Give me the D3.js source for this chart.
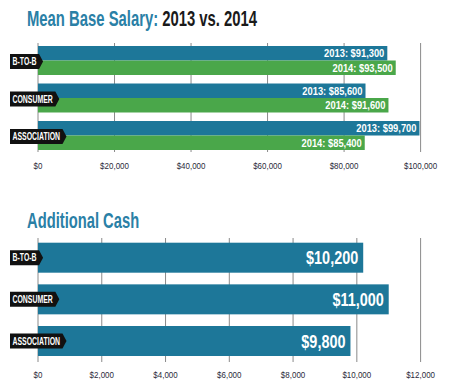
<!DOCTYPE html>
<html>
<head>
<meta charset="utf-8">
<script src="https://cdn.jsdelivr.net/npm/d3@7"></script>
<style>
  body { margin: 0; background: #fff; }
  svg text { font-family: "Liberation Sans", Arial, sans-serif; }
</style>
</head>
<body>
<div id="chart"></div>
<script>
// categories shared by both panels
var categories = ["B-TO-B", "CONSUMER", "ASSOCIATION"];

// mean base salary, by year
var years = ["2013", "2014"];
var salary2013 = [91300, 85600, 99700];
var salary2014 = [93500, 91600, 85400];
var salaryTicks = [0, 20000, 40000, 60000, 80000, 100000];

// additional cash
var cash = [10200, 11000, 9800];
var cashTicks = [0, 2000, 4000, 6000, 8000, 10000, 12000];

var blue = "#1d7799", green = "#4aa74a", titleBlue = "#2a80a6";
var width = 450, height = 391;
var fmt = d3.format("$,");

var svg = d3.select("#chart").append("svg")
    .attr("width", width).attr("height", height);

// the original uses a condensed face, so squeeze the text horizontally
function squeeze(sel, x, y, sx) {
    return sel.attr("transform", "translate(" + x + "," + y + ") scale(" + sx + ",1)")
        .attr("x", 0).attr("y", 0);
}

// black arrow-shaped category tag, centred on y
function drawTag(g, label, y) {
    var tag = g.append("g").attr("class", "tag");
    var path = tag.append("path").attr("fill", "#111");
    var sx = 0.66;
    var txt = tag.append("text")
        .attr("fill", "#fff")
        .attr("font-size", 10.5)
        .attr("font-weight", "bold")
        .text(label);
    squeeze(txt, 12.5, y + 3.8, sx);
    var w = txt.node().getComputedTextLength() * sx;
    var x0 = 10, xe = 12.5 + w + 2.5, h = 7.5;
    path.attr("d", "M" + x0 + "," + (y - h) + "H" + xe + "L" + (xe + 4) + "," + y +
        "L" + xe + "," + (y + h) + "H" + x0 + "Z");
}

function drawGrid(g, x, ticks, y0, y1, labelY) {
    g.selectAll(".grid").data(ticks).enter().append("line")
        .attr("class", "grid")
        .attr("x1", function(d) { return x(d); })
        .attr("x2", function(d) { return x(d); })
        .attr("y1", y0).attr("y2", y1)
        .attr("stroke", "#8a8a8a").attr("stroke-width", 1);
    g.selectAll(".tick-label").data(ticks).enter().append("text")
        .attr("class", "tick-label")
        .attr("text-anchor", "middle")
        .attr("font-size", 9.5)
        .attr("fill", "#2a2a3a")
        .text(function(d) { return fmt(d); })
        .each(function(d) { squeeze(d3.select(this), x(d), labelY, 0.84); });
}

// ---- panel 1: mean base salary ----
var title1 = svg.append("text")
    .attr("font-size", 22).attr("font-weight", "bold");
title1.append("tspan").attr("fill", titleBlue).text("Mean Base Salary: ");
title1.append("tspan").attr("fill", "#1a1a1a").text("2013 vs. 2014");
squeeze(title1, 27, 26, 0.675);

var topPanel = svg.append("g");
var x1 = d3.scaleLinear().domain([0, 100000]).range([38, 420.6]);
var y1 = d3.scaleBand().domain(categories).range([46, 150]).paddingInner(0.227);
var yYear = d3.scaleBand().domain(years).range([0, y1.bandwidth()]);

drawGrid(topPanel, x1, salaryTicks, 43, 152, 169);

var rows = categories.map(function(c, i) {
    return { cat: c, vals: [salary2013[i], salary2014[i]] };
});

rows.forEach(function(r) {
    r.vals.forEach(function(v, j) {
        var yr = years[j];
        var by = y1(r.cat) + yYear(yr);
        topPanel.append("rect")
            .attr("x", x1(0)).attr("y", by)
            .attr("width", x1(v) - x1(0)).attr("height", yYear.bandwidth())
            .attr("fill", j === 0 ? blue : green);
        var t = topPanel.append("text")
            .attr("text-anchor", "end")
            .attr("fill", "#fff").attr("font-weight", "bold").attr("font-size", 11)
            .text(yr + ": " + fmt(v));
        squeeze(t, x1(v) - 3, by + yYear.bandwidth() / 2 + 4, 0.85);
    });
    drawTag(topPanel, r.cat, y1(r.cat) + y1.bandwidth() / 2 + 1);
});

// ---- panel 2: additional cash ----
var title2 = svg.append("text")
    .attr("font-size", 22).attr("font-weight", "bold")
    .attr("fill", titleBlue).text("Additional Cash");
squeeze(title2, 27, 228, 0.67);

var bottomPanel = svg.append("g");
var x2 = d3.scaleLinear().domain([0, 12000]).range([38, 420.6]);
var y2 = d3.scaleBand().domain(categories).range([242.7, 356]).paddingInner(0.28);

drawGrid(bottomPanel, x2, cashTicks, 238, 362, 378);

bottomPanel.selectAll(".bar").data(cash).enter().append("rect")
    .attr("class", "bar")
    .attr("x", x2(0))
    .attr("y", function(d, i) { return y2(categories[i]); })
    .attr("width", function(d) { return x2(d) - x2(0); })
    .attr("height", y2.bandwidth())
    .attr("fill", blue);

bottomPanel.selectAll(".val").data(cash).enter().append("text")
    .attr("class", "val")
    .attr("text-anchor", "end")
    .attr("fill", "#fff").attr("font-weight", "bold").attr("font-size", 18.5)
    .text(function(d) { return fmt(d); })
    .each(function(d, i) {
        squeeze(d3.select(this), x2(d) - 5, y2(categories[i]) + y2.bandwidth() / 2 + 6.5, 0.78);
    });

categories.forEach(function(c) {
    drawTag(bottomPanel, c, y2(c) + y2.bandwidth() / 2);
});
</script>
</body>
</html>
